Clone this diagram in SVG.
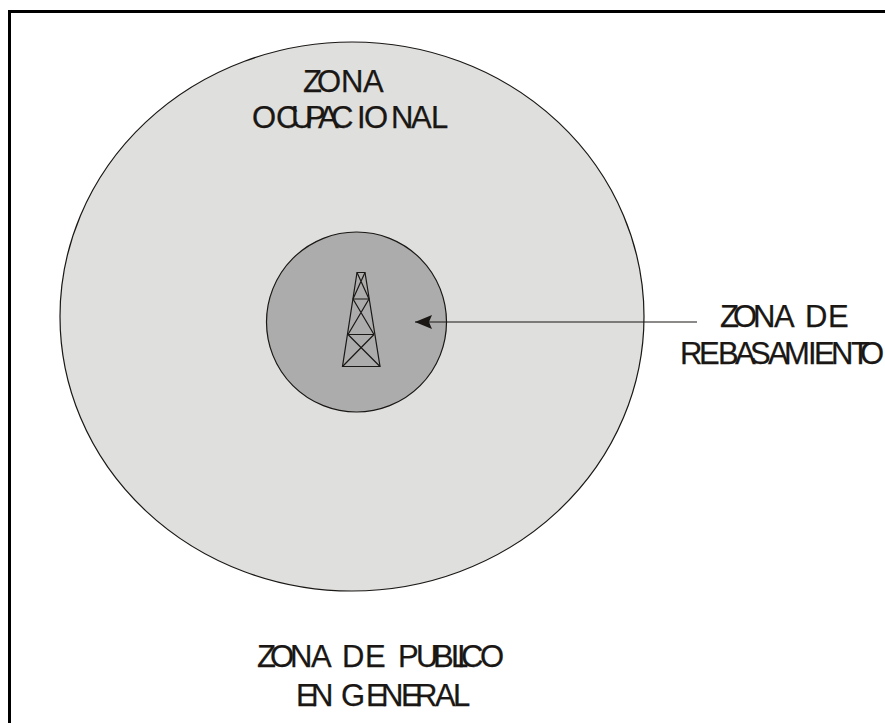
<svg xmlns="http://www.w3.org/2000/svg" width="885" height="723" viewBox="0 0 885 723">
<style>
.t{font-family:"Liberation Sans",Arial,sans-serif;font-size:31px;fill:#1a1715;stroke:#1a1715;stroke-width:.25}
.l{stroke:#1a1715;fill:none;stroke-width:1.2}
.z{stroke:#1a1715;stroke-width:1.2}
</style>
<defs><marker id="a" markerUnits="userSpaceOnUse" markerWidth="18" markerHeight="16" refX="17" refY="8" orient="auto"><path d="M17 8L0 1L3 8L0 15Z" fill="#1a1715"/></marker></defs>
<rect width="885" height="723" fill="#fff"/>
<path d="M9.500 723V11.500H885" fill="none" stroke="#000" stroke-width="3"/>
<g id="zona-ocupacional"><ellipse cx="352" cy="316.500" rx="292" ry="274.500" fill="#dfdfdd" class="z"/>
<text class="t" x="303 317 341 363" y="92">ZONA</text>
<text class="t" x="252 276 291 305 318 331 357 364 391 411 431" y="128">OCUPACIONAL</text></g>
<g id="zona-rebasamiento"><circle cx="356.500" cy="322" r="90" fill="#acacac" class="z"/></g>
<g id="torre" class="l">
<path d="M357 272.500H365L380 366.500H342.500Z"/>
<path d="M353 299H369M348 334.500H374M342.500 366.500H380"/>
<path d="M357 272.500L369 299M365 272.500L353 299M353 299L374 334.500M369 299L348 334.500M348 334.500L380 366.500M374 334.500L342.500 366.500"/>
</g>
<g id="conectores"><line x1="697" y1="322" x2="415" y2="322" class="l" marker-end="url(#a)"/></g>
<g id="etiqueta-rebasamiento">
<text class="t" x="720 733 753 774 796 805 828" y="327">ZONA DE</text>
<text class="t" x="680 699 718 735 750 768 784 808 814 831 851 860" y="364">REBASAMIENTO</text></g>
<g id="zona-publico">
<text class="t" x="257 270 290 311 335 342 365 393 398 416 433 451 457 461 480" y="667">ZONA DE PUBLICO</text>
<text class="t" x="296 311 335 341 366 381 401 415 435 453" y="706">EN GENERAL</text></g>
</svg>
